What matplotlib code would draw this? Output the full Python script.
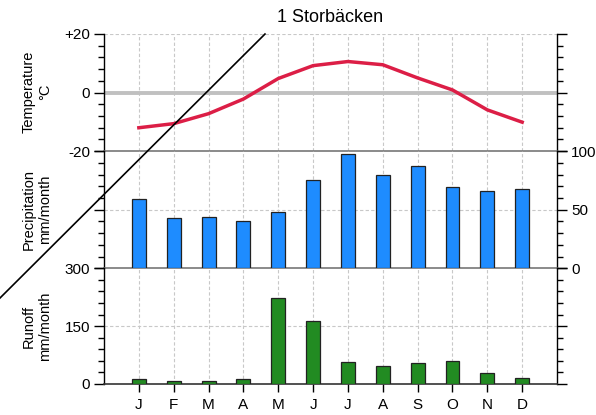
import numpy as np
import matplotlib.pyplot as plt
from matplotlib.lines import Line2D
from matplotlib.ticker import MultipleLocator

plt.rcParams['font.family'] = ['Liberation Sans', 'DejaVu Sans']

# data
months = ['J', 'F', 'M', 'A', 'M', 'J', 'J', 'A', 'S', 'O', 'N', 'D']
temperature = [-12.0, -10.6, -7.2, -2.2, 4.8, 9.2, 10.6, 9.5, 5.0, 0.9, -5.9, -10.1]
precipitation = [59, 43, 44, 40, 48, 75, 98, 80, 87, 69, 66, 68]
runoff = [12, 8, 8, 13, 224, 162, 58, 46, 55, 60, 29, 16]

x = np.arange(1, 13)
grid_col = '#c8c8c8'
sep_col = '#777777'

fig = plt.figure(figsize=(5.96, 4.15), dpi=100)
axT = fig.add_axes([0.1745, 0.6357, 0.7601, 0.2824])
axP = fig.add_axes([0.1745, 0.3537, 0.7601, 0.2820])
axR = fig.add_axes([0.1745, 0.0747, 0.7601, 0.2790])

for ax in (axT, axP, axR):
    ax.set_xlim(0, 13)
    ax.set_xticks(x)
    for xi in x:
        ax.axvline(xi, color=grid_col, lw=0.8, ls=(0, (3, 2)), zorder=0)
    for s in ('left', 'right'):
        ax.spines[s].set_color('black')
        ax.spines[s].set_linewidth(1.0)
    ax.spines['top'].set_visible(False)
    ax.spines['bottom'].set_color(sep_col)
    ax.spines['bottom'].set_linewidth(1.2)
    ax.tick_params(axis='y', which='major', length=7, width=1, direction='out',
                   left=True, right=True, labelsize=11, pad=3)
    ax.tick_params(axis='y', which='minor', length=4, width=1, direction='out',
                   left=True, right=True)
    ax.tick_params(axis='x', length=0, labelbottom=False)
    ax.set_facecolor('none')

# temperature
axT.set_ylim(-20, 20)
axT.set_yticks([-20, 0, 20])
axT.set_yticklabels(['-20', '0', '+20'])
axT.yaxis.set_minor_locator(MultipleLocator(4))
axT.axhline(20, color=grid_col, lw=0.8, ls=(0, (3, 2)), zorder=0)
axT.axhline(0, color='#c0c0c0', lw=2.8, zorder=1)
axT.plot(x, temperature, color='#dc1e46', lw=2.5, solid_joinstyle='round', zorder=3)
axT.tick_params(axis='y', labelright=False)

# precipitation
axP.set_ylim(0, 100)
axP.set_yticks([0, 50, 100])
axP.yaxis.set_minor_locator(MultipleLocator(10))
axP.axhline(50, color=grid_col, lw=0.8, ls=(0, (3, 2)), zorder=0)
axP.bar(x, precipitation, width=0.4, color='#1e8cff', edgecolor='#222222', lw=0.9, zorder=3)
axP.tick_params(axis='y', labelleft=False, labelright=True, pad=3)

# runoff
axR.set_ylim(0, 300)
axR.set_yticks([0, 150, 300])
axR.yaxis.set_minor_locator(MultipleLocator(30))
axR.axhline(150, color=grid_col, lw=0.8, ls=(0, (3, 2)), zorder=0)
axR.bar(x, runoff, width=0.4, color='#228b22', edgecolor='#222222', lw=0.9, zorder=3)
axR.spines['bottom'].set_color('#333333')
axR.tick_params(axis='y', labelright=False)
axR.tick_params(axis='x', length=6, width=1, direction='out', labelbottom=True,
                labelsize=11, pad=4)
axR.set_xticklabels(months)

fig.text(0.5546, 0.958, '1 Storbäcken', ha='center', va='center', fontsize=13)
fig.text(0.062, 1 - 92 / 415, 'Temperature\n°C', rotation=90, ha='center', va='center',
         multialignment='center', fontsize=10.5)
fig.text(0.062, 1 - 209 / 415, 'Precipitation\nmm/month', rotation=90, ha='center',
         va='center', multialignment='center', fontsize=10.5)
fig.text(0.062, 1 - 326 / 415, 'Runoff\nmm/month', rotation=90, ha='center',
         va='center', multialignment='center', fontsize=10.5)

# diagonal stroke across the figure
fig.add_artist(Line2D([0.0, 0.4446], [0.2819, 0.918], transform=fig.transFigure,
                      color='black', lw=1.2))

fig.savefig('out.png', dpi=100)
